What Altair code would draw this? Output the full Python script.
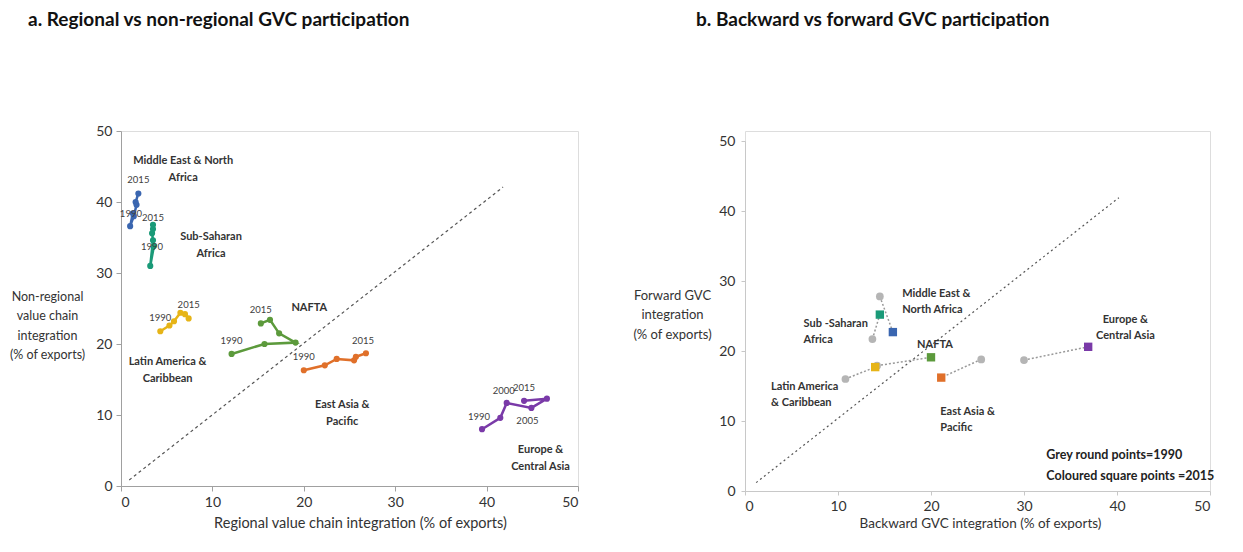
import altair as alt
import pandas as pd

FONT = "Lato"

# ---------------- data: panel a (regional vs non-regional) ----------------
regions = ["MENA", "SSA", "LAC", "NAFTA", "EAP", "ECA"]
years = [1990, 1995, 2000, 2005, 2010, 2015]

mena_reg = [1.3, 1.0, 1.4, 1.7, 1.6, 1.9]
mena_non = [38.4, 36.6, 38.0, 39.6, 40.0, 41.2]
ssa_reg = [3.6, 3.2, 3.5, 3.4, 3.5, 3.5]
ssa_non = [33.8, 31.0, 34.6, 35.6, 36.2, 36.8]
lac_reg = [4.3, 5.3, 5.8, 6.5, 7.0, 7.4]
lac_non = [21.8, 22.6, 23.2, 24.4, 24.2, 23.6]
nafta_reg = [12.1, 15.7, 19.1, 17.3, 16.3, 15.3]
nafta_non = [18.6, 20.0, 20.2, 21.5, 23.4, 22.9]
eap_reg = [20.0, 22.3, 23.6, 25.5, 25.7, 26.8]
eap_non = [16.3, 17.0, 17.9, 17.7, 18.2, 18.7]
eca_reg = [39.5, 41.5, 42.2, 44.9, 46.6, 44.1]
eca_non = [8.0, 9.6, 11.7, 11.0, 12.3, 12.0]

colors_a = ["#3a66b0", "#1a9a78", "#e6b417", "#5c9a3c", "#e0702a", "#7a3aa8"]

# year annotations (region, year, placement)
ylab_region = ["MENA", "MENA", "SSA", "SSA", "LAC", "LAC", "NAFTA", "NAFTA",
               "EAP", "EAP", "ECA", "ECA", "ECA", "ECA"]
ylab_year = [2015, 1990, 2015, 1990, 1990, 2015, 2015, 1990,
             1990, 2015, 1990, 2000, 2015, 2005]
ylab_pos = ["above", "on", "near", "on", "above", "above", "above", "above",
            "above", "aboveleft", "aboveleft", "aboveleft", "above", "below"]

# region names, panel a (anchor in data units)
a_names = ["Middle East & North\nAfrica", "Sub-Saharan\nAfrica", "Latin America &\nCaribbean",
           "NAFTA", "East Asia &\nPacific", "Europe &\nCentral Asia"]
a_name_x = [6.8, 9.85, 5.1, 20.6, 24.2, 45.9]
a_name_y = [45.8, 35.1, 17.5, 25.1, 11.4, 5.1]

diag_a_x = [0.9, 41.8]
diag_a_y = [0.85, 42.1]

# ---------------- data: panel b (backward vs forward) ----------------
b_back_1990 = [14.5, 13.7, 10.8, 14.2, 25.4, 30.0]
b_fwd_1990 = [27.8, 21.7, 16.0, 17.9, 18.8, 18.7]
b_back_2015 = [15.9, 14.5, 14.0, 20.0, 21.1, 36.9]
b_fwd_2015 = [22.7, 25.2, 17.7, 19.1, 16.2, 20.6]
colors_b = ["#3b5fa8", "#23a35a", "#d6b74a", "#6b9a3f", "#e0873a", "#6b3c99"]

b_names_left = ["Middle East &\nNorth Africa", "Sub -Saharan\nAfrica", "NAFTA",
                "Latin America\n& Caribbean", "East Asia &\nPacific"]
b_name_left_x = [16.9, 6.3, 18.5, 2.8, 21.0]
b_name_left_y = [28.1, 23.8, 20.8, 14.9, 11.3]
b_names_center = ["Europe &\nCentral Asia"]
b_name_center_x = [40.9]
b_name_center_y = [24.4]
b_note = ["Grey round points=1990\nColoured square points =2015"]
b_note_x = [32.4]
b_note_y = [5.1]

diag_b_x = [1.2, 40.2]
diag_b_y = [1.2, 41.9]

# ---------------- tables ----------------
reg_x = [mena_reg, ssa_reg, lac_reg, nafta_reg, eap_reg, eca_reg]
reg_y = [mena_non, ssa_non, lac_non, nafta_non, eap_non, eca_non]
rows = []
for r, xs, ys in zip(regions, reg_x, reg_y):
    for yr, xv, yv in zip(years, xs, ys):
        rows.append({"region": r, "year": yr, "x": xv, "y": yv})
df_a = pd.DataFrame(rows)

df_ylab = pd.DataFrame({"region": ylab_region, "year": ylab_year, "pos": ylab_pos})
df_ylab = df_ylab.merge(df_a, on=["region", "year"], how="left")

df_a_names = pd.DataFrame({"label": a_names, "x": a_name_x, "y": a_name_y})
df_diag_a = pd.DataFrame({"x": diag_a_x, "y": diag_a_y})

df_b90 = pd.DataFrame({"region": regions, "x": b_back_1990, "y": b_fwd_1990})
df_b15 = pd.DataFrame({"region": regions, "x": b_back_2015, "y": b_fwd_2015})
df_bcon = pd.concat([df_b90.assign(o=0), df_b15.assign(o=1)], ignore_index=True)
df_b_left = pd.DataFrame({"label": b_names_left, "x": b_name_left_x, "y": b_name_left_y})
df_b_center = pd.DataFrame({"label": b_names_center, "x": b_name_center_x, "y": b_name_center_y})
df_b_note = pd.DataFrame({"label": b_note, "x": b_note_x, "y": b_note_y})
df_diag_b = pd.DataFrame({"x": diag_b_x, "y": diag_b_y})

ticks = [0, 10, 20, 30, 40, 50]

# ---------------- panel a ----------------
ax_xa = alt.Axis(values=ticks, grid=False, title="Regional value chain integration (% of exports)",
                 labelFont=FONT, labelFontSize=14, labelColor="#333", labelPadding=4,
                 titleFont=FONT, titleFontSize=14.5, titleFontWeight="normal", titleColor="#333",
                 titlePadding=7, titleX=239,
                 domainColor="#a0a0a0", tickColor="#a0a0a0", tickSize=5)
ax_ya = alt.Axis(values=ticks, grid=False,
                 title=["Non-regional", "value chain", "integration", "(% of exports)"],
                 titleAngle=0, titleAlign="center", titleBaseline="top", titleX=-74, titleY=159,
                 titleLineHeight=19.5,
                 labelFont=FONT, labelFontSize=14, labelColor="#333", labelPadding=4,
                 titleFont=FONT, titleFontSize=12.5, titleFontWeight="normal", titleColor="#333",
                 domainColor="#a0a0a0", tickColor="#a0a0a0", tickSize=5)
sx_a = alt.Scale(domain=[0, 50], nice=False)
sy_a = alt.Scale(domain=[0, 50], nice=False)


def enc_a():
    return dict(x=alt.X("x:Q", scale=sx_a, axis=ax_xa), y=alt.Y("y:Q", scale=sy_a, axis=ax_ya))


col_a = alt.Color("region:N", scale=alt.Scale(domain=regions, range=colors_a), legend=None)

diag_a = alt.Chart(df_diag_a).mark_line(color="#555", strokeDash=[3, 3], strokeWidth=1.2).encode(**enc_a())
lines_a = alt.Chart(df_a).mark_line(strokeWidth=2.5).encode(**enc_a(), color=col_a, order="year:Q", detail="region:N")
pts_a = alt.Chart(df_a).mark_circle(size=38, opacity=1).encode(**enc_a(), color=col_a)

yl_common = dict(font=FONT, fontSize=9.5, color="#404040")


def year_layer(pos, dx, dy):
    return alt.Chart(df_ylab).transform_filter(f"datum.pos == '{pos}'").mark_text(
        dx=dx, dy=dy, **yl_common).encode(**enc_a(), text=alt.Text("year:Q", format="d"))


ylabs = [year_layer("above", 0, -13), year_layer("aboveleft", -3, -12), year_layer("near", 0, -7),
         year_layer("on", -2, 1), year_layer("below", -4, 13)]

names_a = alt.Chart(df_a_names).mark_text(font=FONT, fontSize=11, fontWeight="bold", color="#333",
                                          lineBreak="\n", lineHeight=17, align="center", baseline="middle").encode(
    **enc_a(), text="label:N")

panel_a = alt.layer(diag_a, lines_a, pts_a, *ylabs, names_a).properties(
    width=457, height=355,
    title=alt.TitleParams("a. Regional vs non-regional GVC participation", font=FONT, fontSize=19,
                          fontWeight="bold", color="#111", anchor="start", frame="group", dx=-93, offset=94))

# ---------------- panel b ----------------
ax_xb = alt.Axis(values=ticks, grid=False, title="Backward GVC integration (% of exports)",
                 labelFont=FONT, labelFontSize=14, labelColor="#333", labelPadding=4,
                 titleFont=FONT, titleFontSize=13.5, titleFontWeight="normal", titleColor="#333",
                 titlePadding=3, titleX=235,
                 domainColor="#c8c8c8", tickColor="#c8c8c8", tickSize=4)
ax_yb = alt.Axis(values=ticks, grid=False,
                 title=["Forward GVC", "integration", "(% of exports)"],
                 titleAngle=0, titleAlign="center", titleBaseline="top", titleX=-73, titleY=158,
                 titleLineHeight=19.5,
                 labelFont=FONT, labelFontSize=14, labelColor="#333", labelPadding=6,
                 titleFont=FONT, titleFontSize=13, titleFontWeight="normal", titleColor="#333",
                 domainColor="#c8c8c8", tickColor="#c8c8c8", tickSize=4)
sx_b = alt.Scale(domain=[0, 50], nice=False)
sy_b = alt.Scale(domain=[0, 50], nice=False, range=[360, 10])


def enc_b():
    return dict(x=alt.X("x:Q", scale=sx_b, axis=ax_xb), y=alt.Y("y:Q", scale=sy_b, axis=ax_yb))


col_b = alt.Color("region:N", scale=alt.Scale(domain=regions, range=colors_b), legend=None)

diag_b = alt.Chart(df_diag_b).mark_line(color="#555", strokeDash=[2, 3], strokeWidth=1.2).encode(**enc_b())
con_b = alt.Chart(df_bcon).mark_line(color="#999", strokeDash=[2, 2], strokeWidth=1.5).encode(
    **enc_b(), detail="region:N", order="o:Q")
grey_b = alt.Chart(df_b90).mark_circle(size=60, color="#b5b5b5", opacity=1).encode(**enc_b())
sq_b = alt.Chart(df_b15).mark_point(shape="square", filled=True, size=70, opacity=1).encode(**enc_b(), color=col_b)

nb_common = dict(font=FONT, fontSize=11, fontWeight="bold", color="#333", lineBreak="\n",
                 lineHeight=16, baseline="middle")
names_b_left = alt.Chart(df_b_left).mark_text(align="left", **nb_common).encode(**enc_b(), text="label:N")
names_b_center = alt.Chart(df_b_center).mark_text(align="center", **nb_common).encode(**enc_b(), text="label:N")
note_b = alt.Chart(df_b_note).mark_text(align="left", font=FONT, fontSize=12.5, fontWeight="bold", color="#222",
                                        lineBreak="\n", lineHeight=21, baseline="middle").encode(
    **enc_b(), text="label:N")

panel_b = alt.layer(diag_b, con_b, grey_b, sq_b, names_b_left, names_b_center, note_b).properties(
    width=465, height=360,
    title=alt.TitleParams("b. Backward vs forward GVC participation", font=FONT, fontSize=19,
                          fontWeight="bold", color="#111", anchor="start", frame="group", dx=-49, offset=101))

chart = alt.hconcat(panel_a, panel_b, spacing=53, bounds="full").properties(
    padding={"left": 0, "top": 2, "right": 5, "bottom": 5}
).configure_view(stroke=None).configure(background="white")

chart.save("out.html", embed_options={"renderer": "svg", "actions": False})
